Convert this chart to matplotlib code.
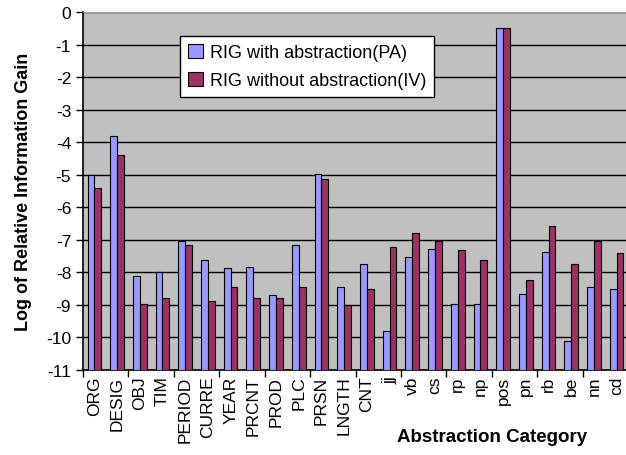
import numpy as np
import matplotlib
matplotlib.use("Agg")
import matplotlib.pyplot as plt

categories = ["ORG", "DESIG", "OBJ", "TIM", "PERIOD", "CURRE", "YEAR", "PRCNT",
              "PROD", "PLC", "PRSN", "LNGTH", "CNT", "jj", "vb", "cs", "rp",
              "np", "pos", "pn", "rb", "be", "nn", "cd"]
with_abs = [-5.0, -3.82, -8.1, -8.0, -7.05, -7.63, -7.88, -7.83,
            -8.7, -7.15, -4.97, -8.46, -7.75, -9.8, -7.53, -7.27, -8.98,
            -8.98, -0.49, -8.67, -7.37, -10.1, -8.46, -8.5]
without_abs = [-5.4, -4.39, -8.97, -8.8, -7.15, -8.89, -8.44, -8.8,
               -8.8, -8.44, -5.14, -8.99, -8.5, -7.22, -6.79, -7.03, -7.32,
               -7.63, -0.49, -8.24, -6.58, -7.75, -7.04, -7.4]
legend_labels = ["RIG with abstraction(PA)", "RIG without abstraction(IV)"]

plt.rcParams["font.family"] = ["Liberation Sans", "DejaVu Sans"]

fig = plt.figure(figsize=(6.26, 4.56), dpi=100)
ax = fig.add_axes((83 / 626, 85 / 456, 545 / 626, 358 / 456))
ax.set_facecolor("#C0C0C0")

x = np.arange(len(categories)) + 0.5
w = 0.3
ax.bar(x - w / 2, with_abs, width=w, bottom=0, color="#9999FF",
       edgecolor="black", linewidth=0.8, label=legend_labels[0], zorder=3)
ax.bar(x + w / 2, without_abs, width=w, bottom=0, color="#993366",
       edgecolor="black", linewidth=0.8, label=legend_labels[1], zorder=3)

# bars grow up from the bottom of the axis (-11), like Excel
for p in ax.patches:
    top = p.get_y() + p.get_height()
    p.set_y(-11)
    p.set_height(top + 11)

ax.set_ylim(-11, 0)
ax.set_xlim(0, len(categories))
ax.set_yticks(np.arange(-11, 1, 1))
ax.set_yticklabels([str(v) for v in range(-11, 1)], fontsize=12.5)
ax.yaxis.grid(True, color="black", linewidth=1.0, zorder=1)
ax.set_axisbelow(True)

ax.set_xticks(np.arange(0, len(categories) + 1, 2))
ax.set_xticklabels([])
ax.set_xticks(x, minor=True)
ax.set_xticklabels(categories, minor=True, rotation=90, fontsize=12.5, va="top")
ax.tick_params(axis="x", which="minor", length=0, pad=4)
ax.tick_params(axis="both", which="major", length=5, width=1, direction="out")

ax.spines["right"].set_visible(False)
ax.spines["top"].set_color("#A0A0A0")
ax.spines["left"].set_linewidth(1.2)
ax.spines["bottom"].set_linewidth(1.2)

ax.set_ylabel("Log of Relative Information Gain", fontsize=13,
              fontweight="bold", labelpad=10)
fig.text(492 / 626, 1 - 438 / 456, "Abstraction Category", fontsize=13.5,
         fontweight="bold", ha="center", va="center")

leg = ax.legend(loc="upper left", bbox_to_anchor=(97 / 545, 1 - 24 / 358),
                fontsize=13, frameon=True, fancybox=False, framealpha=1,
                edgecolor="black", handlelength=0.8, handleheight=0.8,
                handletextpad=0.4, borderpad=0.45, labelspacing=0.6,
                borderaxespad=0)
leg.get_frame().set_linewidth(1.0)

fig.savefig("out.png", dpi=100)
